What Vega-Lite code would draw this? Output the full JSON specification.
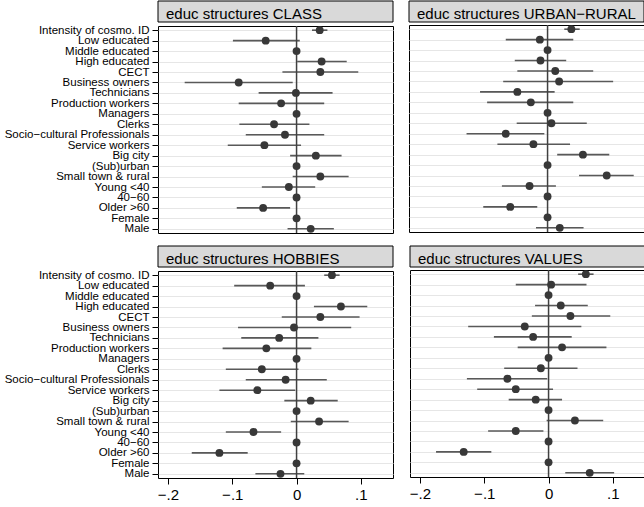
{
  "$schema": "https://vega.github.io/schema/vega-lite/v6.json",
  "padding": {"left": 3, "top": 0, "right": 0, "bottom": 0},
  "background": "white",
  "datasets": {
    "coefs": [
      {"panel": "CLASS", "label": "Intensity of cosmo. ID", "coef": 0.036, "lo": 0.024, "hi": 0.048},
      {"panel": "CLASS", "label": "Low educated", "coef": -0.048, "lo": -0.099, "hi": 0.005},
      {"panel": "CLASS", "label": "Middle educated", "coef": 0, "lo": 0, "hi": 0},
      {"panel": "CLASS", "label": "High educated", "coef": 0.039, "lo": 0.001, "hi": 0.078},
      {"panel": "CLASS", "label": "CECT", "coef": 0.037, "lo": -0.022, "hi": 0.096},
      {"panel": "CLASS", "label": "Business owners", "coef": -0.09, "lo": -0.174, "hi": -0.006},
      {"panel": "CLASS", "label": "Technicians", "coef": -0.001, "lo": -0.059, "hi": 0.056},
      {"panel": "CLASS", "label": "Production workers", "coef": -0.024, "lo": -0.09, "hi": 0.043},
      {"panel": "CLASS", "label": "Managers", "coef": 0, "lo": 0, "hi": 0},
      {"panel": "CLASS", "label": "Clerks", "coef": -0.035, "lo": -0.089, "hi": 0.02},
      {"panel": "CLASS", "label": "Socio−cultural Professionals", "coef": -0.018, "lo": -0.079, "hi": 0.043},
      {"panel": "CLASS", "label": "Service workers", "coef": -0.05, "lo": -0.107, "hi": 0.007},
      {"panel": "CLASS", "label": "Big city", "coef": 0.03, "lo": -0.01, "hi": 0.07},
      {"panel": "CLASS", "label": "(Sub)urban", "coef": 0, "lo": 0, "hi": 0},
      {"panel": "CLASS", "label": "Small town & rural", "coef": 0.037, "lo": -0.006, "hi": 0.081},
      {"panel": "CLASS", "label": "Young <40", "coef": -0.012, "lo": -0.054, "hi": 0.029},
      {"panel": "CLASS", "label": "40−60", "coef": 0, "lo": 0, "hi": 0},
      {"panel": "CLASS", "label": "Older >60", "coef": -0.052, "lo": -0.093, "hi": -0.01},
      {"panel": "CLASS", "label": "Female", "coef": 0, "lo": 0, "hi": 0},
      {"panel": "CLASS", "label": "Male", "coef": 0.022, "lo": -0.014, "hi": 0.058},

      {"panel": "URBAN−RURAL", "label": "Intensity of cosmo. ID", "coef": 0.037, "lo": 0.026, "hi": 0.05},
      {"panel": "URBAN−RURAL", "label": "Low educated", "coef": -0.012, "lo": -0.065, "hi": 0.04},
      {"panel": "URBAN−RURAL", "label": "Middle educated", "coef": 0, "lo": 0, "hi": 0},
      {"panel": "URBAN−RURAL", "label": "High educated", "coef": -0.011, "lo": -0.051, "hi": 0.029},
      {"panel": "URBAN−RURAL", "label": "CECT", "coef": 0.012, "lo": -0.047, "hi": 0.071},
      {"panel": "URBAN−RURAL", "label": "Business owners", "coef": 0.018, "lo": -0.069, "hi": 0.102},
      {"panel": "URBAN−RURAL", "label": "Technicians", "coef": -0.047, "lo": -0.105, "hi": 0.011},
      {"panel": "URBAN−RURAL", "label": "Production workers", "coef": -0.026, "lo": -0.094, "hi": 0.04},
      {"panel": "URBAN−RURAL", "label": "Managers", "coef": 0, "lo": 0, "hi": 0},
      {"panel": "URBAN−RURAL", "label": "Clerks", "coef": 0.006, "lo": -0.048, "hi": 0.061},
      {"panel": "URBAN−RURAL", "label": "Socio−cultural Professionals", "coef": -0.065, "lo": -0.126, "hi": -0.005},
      {"panel": "URBAN−RURAL", "label": "Service workers", "coef": -0.022, "lo": -0.078, "hi": 0.035},
      {"panel": "URBAN−RURAL", "label": "Big city", "coef": 0.055, "lo": 0.015, "hi": 0.096},
      {"panel": "URBAN−RURAL", "label": "(Sub)urban", "coef": 0, "lo": 0, "hi": 0},
      {"panel": "URBAN−RURAL", "label": "Small town & rural", "coef": 0.092, "lo": 0.049, "hi": 0.134},
      {"panel": "URBAN−RURAL", "label": "Young <40", "coef": -0.028, "lo": -0.071, "hi": 0.013},
      {"panel": "URBAN−RURAL", "label": "40−60", "coef": 0, "lo": 0, "hi": 0},
      {"panel": "URBAN−RURAL", "label": "Older >60", "coef": -0.058, "lo": -0.1, "hi": -0.016},
      {"panel": "URBAN−RURAL", "label": "Female", "coef": 0, "lo": 0, "hi": 0},
      {"panel": "URBAN−RURAL", "label": "Male", "coef": 0.019, "lo": -0.018, "hi": 0.056},

      {"panel": "HOBBIES", "label": "Intensity of cosmo. ID", "coef": 0.055, "lo": 0.043, "hi": 0.067},
      {"panel": "HOBBIES", "label": "Low educated", "coef": -0.041, "lo": -0.097, "hi": 0.013},
      {"panel": "HOBBIES", "label": "Middle educated", "coef": 0, "lo": 0, "hi": 0},
      {"panel": "HOBBIES", "label": "High educated", "coef": 0.069, "lo": 0.027, "hi": 0.11},
      {"panel": "HOBBIES", "label": "CECT", "coef": 0.037, "lo": -0.023, "hi": 0.098},
      {"panel": "HOBBIES", "label": "Business owners", "coef": -0.004, "lo": -0.091, "hi": 0.085},
      {"panel": "HOBBIES", "label": "Technicians", "coef": -0.027, "lo": -0.086, "hi": 0.034},
      {"panel": "HOBBIES", "label": "Production workers", "coef": -0.047, "lo": -0.115, "hi": 0.023},
      {"panel": "HOBBIES", "label": "Managers", "coef": 0, "lo": 0, "hi": 0},
      {"panel": "HOBBIES", "label": "Clerks", "coef": -0.054, "lo": -0.11, "hi": 0.003},
      {"panel": "HOBBIES", "label": "Socio−cultural Professionals", "coef": -0.017, "lo": -0.079, "hi": 0.047},
      {"panel": "HOBBIES", "label": "Service workers", "coef": -0.061, "lo": -0.12, "hi": -0.002},
      {"panel": "HOBBIES", "label": "Big city", "coef": 0.022, "lo": -0.019, "hi": 0.064},
      {"panel": "HOBBIES", "label": "(Sub)urban", "coef": 0, "lo": 0, "hi": 0},
      {"panel": "HOBBIES", "label": "Small town & rural", "coef": 0.035, "lo": -0.009, "hi": 0.081},
      {"panel": "HOBBIES", "label": "Young <40", "coef": -0.067, "lo": -0.11, "hi": -0.024},
      {"panel": "HOBBIES", "label": "40−60", "coef": 0, "lo": 0, "hi": 0},
      {"panel": "HOBBIES", "label": "Older >60", "coef": -0.12, "lo": -0.163, "hi": -0.076},
      {"panel": "HOBBIES", "label": "Female", "coef": 0, "lo": 0, "hi": 0},
      {"panel": "HOBBIES", "label": "Male", "coef": -0.025, "lo": -0.064, "hi": 0.012},

      {"panel": "VALUES", "label": "Intensity of cosmo. ID", "coef": 0.058, "lo": 0.046, "hi": 0.07},
      {"panel": "VALUES", "label": "Low educated", "coef": 0.004, "lo": -0.051, "hi": 0.059},
      {"panel": "VALUES", "label": "Middle educated", "coef": 0, "lo": 0, "hi": 0},
      {"panel": "VALUES", "label": "High educated", "coef": 0.019, "lo": -0.021, "hi": 0.061},
      {"panel": "VALUES", "label": "CECT", "coef": 0.034, "lo": -0.026, "hi": 0.096},
      {"panel": "VALUES", "label": "Business owners", "coef": -0.037, "lo": -0.125, "hi": 0.051},
      {"panel": "VALUES", "label": "Technicians", "coef": -0.024, "lo": -0.085, "hi": 0.036},
      {"panel": "VALUES", "label": "Production workers", "coef": 0.021, "lo": -0.048, "hi": 0.09},
      {"panel": "VALUES", "label": "Managers", "coef": 0, "lo": 0, "hi": 0},
      {"panel": "VALUES", "label": "Clerks", "coef": -0.012, "lo": -0.069, "hi": 0.045},
      {"panel": "VALUES", "label": "Socio−cultural Professionals", "coef": -0.064, "lo": -0.127, "hi": -0.002},
      {"panel": "VALUES", "label": "Service workers", "coef": -0.051, "lo": -0.111, "hi": 0.007},
      {"panel": "VALUES", "label": "Big city", "coef": -0.02, "lo": -0.062, "hi": 0.021},
      {"panel": "VALUES", "label": "(Sub)urban", "coef": 0, "lo": 0, "hi": 0},
      {"panel": "VALUES", "label": "Small town & rural", "coef": 0.041, "lo": -0.003, "hi": 0.085},
      {"panel": "VALUES", "label": "Young <40", "coef": -0.051, "lo": -0.094, "hi": -0.008},
      {"panel": "VALUES", "label": "40−60", "coef": 0, "lo": 0, "hi": 0},
      {"panel": "VALUES", "label": "Older >60", "coef": -0.132, "lo": -0.175, "hi": -0.089},
      {"panel": "VALUES", "label": "Female", "coef": 0, "lo": 0, "hi": 0},
      {"panel": "VALUES", "label": "Male", "coef": 0.064, "lo": 0.026, "hi": 0.102}
    ]
  },
  "vconcat": [
    {
      "hconcat": [
        {
          "vconcat": [
            {
              "width": 235, "height": 21,
              "data": {"values": [{"panel": "CLASS"}]},
              "mark": {"type": "rect", "fill": "#d9d9d9", "stroke": "black", "strokeWidth": 1},
              "view": {"stroke": null},
              "title": {"text": "educ structures CLASS", "orient": "bottom", "anchor": "start", "frame": "group", "baseline": "alphabetic", "offset": -4, "dx": 8}
            },
            {
              "width": 235, "height": 207,
              "data": {"name": "coefs"},
              "transform": [{"filter": "datum.panel === 'CLASS'"}],
              "layer": [
                {
                  "mark": {"type": "rule", "color": "#595959", "strokeWidth": 1.6},
                  "encoding": {
                    "y": {"field": "label", "type": "nominal", "sort": null, "scale": {"type": "point", "padding": 0.4}, "axis": {"title": null, "grid": true}},
                    "x": {"field": "lo", "type": "quantitative", "scale": {"domain": [-0.2155, 0.15], "nice": false, "zero": false}, "axis": null},
                    "x2": {"field": "hi"}
                  }
                },
                {
                  "data": {"values": [{"ref": 0}]},
                  "mark": {"type": "rule", "color": "#404040", "strokeWidth": 1.5},
                  "encoding": {
                    "x": {"field": "ref", "type": "quantitative", "scale": {"domain": [-0.2155, 0.15], "nice": false, "zero": false}, "axis": null}
                  }
                },
                {
                  "mark": {"type": "circle", "color": "#383838", "size": 62, "opacity": 1},
                  "encoding": {
                    "y": {"field": "label", "type": "nominal", "sort": null, "scale": {"type": "point", "padding": 0.4}, "axis": {"title": null, "grid": true}},
                    "x": {"field": "coef", "type": "quantitative", "scale": {"domain": [-0.2155, 0.15], "nice": false, "zero": false}, "axis": null}
                  }
                }
              ]
            }
          ],
          "spacing": 0
        },
        {
          "vconcat": [
            {
              "width": 235, "height": 21,
              "data": {"values": [{"panel": "URBAN−RURAL"}]},
              "mark": {"type": "rect", "fill": "#d9d9d9", "stroke": "black", "strokeWidth": 1},
              "view": {"stroke": null},
              "title": {"text": "educ structures URBAN−RURAL", "orient": "bottom", "anchor": "start", "frame": "group", "baseline": "alphabetic", "offset": -4, "dx": 8}
            },
            {
              "width": 235, "height": 207,
              "data": {"name": "coefs"},
              "transform": [{"filter": "datum.panel === 'URBAN−RURAL'"}],
              "layer": [
                {
                  "mark": {"type": "rule", "color": "#595959", "strokeWidth": 1.6},
                  "encoding": {
                    "y": {"field": "label", "type": "nominal", "sort": null, "scale": {"type": "point", "padding": 0.4}, "axis": {"title": null, "grid": true, "labels": false, "ticks": false}},
                    "x": {"field": "lo", "type": "quantitative", "scale": {"domain": [-0.2155, 0.15], "nice": false, "zero": false}, "axis": null},
                    "x2": {"field": "hi"}
                  }
                },
                {
                  "data": {"values": [{"ref": 0}]},
                  "mark": {"type": "rule", "color": "#404040", "strokeWidth": 1.5},
                  "encoding": {
                    "x": {"field": "ref", "type": "quantitative", "scale": {"domain": [-0.2155, 0.15], "nice": false, "zero": false}, "axis": null}
                  }
                },
                {
                  "mark": {"type": "circle", "color": "#383838", "size": 62, "opacity": 1},
                  "encoding": {
                    "y": {"field": "label", "type": "nominal", "sort": null, "scale": {"type": "point", "padding": 0.4}, "axis": {"title": null, "grid": true, "labels": false, "ticks": false}},
                    "x": {"field": "coef", "type": "quantitative", "scale": {"domain": [-0.2155, 0.15], "nice": false, "zero": false}, "axis": null}
                  }
                }
              ]
            }
          ],
          "spacing": 0
        }
      ],
      "spacing": 14
    },
    {
      "hconcat": [
        {
          "vconcat": [
            {
              "width": 235, "height": 21,
              "data": {"values": [{"panel": "HOBBIES"}]},
              "mark": {"type": "rect", "fill": "#d9d9d9", "stroke": "black", "strokeWidth": 1},
              "view": {"stroke": null},
              "title": {"text": "educ structures HOBBIES", "orient": "bottom", "anchor": "start", "frame": "group", "baseline": "alphabetic", "offset": -4, "dx": 8}
            },
            {
              "width": 235, "height": 207,
              "data": {"name": "coefs"},
              "transform": [{"filter": "datum.panel === 'HOBBIES'"}],
              "layer": [
                {
                  "mark": {"type": "rule", "color": "#595959", "strokeWidth": 1.6},
                  "encoding": {
                    "y": {"field": "label", "type": "nominal", "sort": null, "scale": {"type": "point", "padding": 0.4}, "axis": {"title": null, "grid": true}},
                    "x": {"field": "lo", "type": "quantitative", "scale": {"domain": [-0.2155, 0.15], "nice": false, "zero": false}, "axis": {"title": null, "values": [-0.2, -0.1, 0, 0.1], "labelExpr": "datum.value === 0 ? '0' : replace(format(datum.value, '.1f'), '0.', '.')"}},
                    "x2": {"field": "hi"}
                  }
                },
                {
                  "data": {"values": [{"ref": 0}]},
                  "mark": {"type": "rule", "color": "#404040", "strokeWidth": 1.5},
                  "encoding": {
                    "x": {"field": "ref", "type": "quantitative", "scale": {"domain": [-0.2155, 0.15], "nice": false, "zero": false}, "axis": {"title": null, "values": [-0.2, -0.1, 0, 0.1], "labelExpr": "datum.value === 0 ? '0' : replace(format(datum.value, '.1f'), '0.', '.')"}}
                  }
                },
                {
                  "mark": {"type": "circle", "color": "#383838", "size": 62, "opacity": 1},
                  "encoding": {
                    "y": {"field": "label", "type": "nominal", "sort": null, "scale": {"type": "point", "padding": 0.4}, "axis": {"title": null, "grid": true}},
                    "x": {"field": "coef", "type": "quantitative", "scale": {"domain": [-0.2155, 0.15], "nice": false, "zero": false}, "axis": {"title": null, "values": [-0.2, -0.1, 0, 0.1], "labelExpr": "datum.value === 0 ? '0' : replace(format(datum.value, '.1f'), '0.', '.')"}}
                  }
                }
              ]
            }
          ],
          "spacing": 0
        },
        {
          "vconcat": [
            {
              "width": 235, "height": 21,
              "data": {"values": [{"panel": "VALUES"}]},
              "mark": {"type": "rect", "fill": "#d9d9d9", "stroke": "black", "strokeWidth": 1},
              "view": {"stroke": null},
              "title": {"text": "educ structures VALUES", "orient": "bottom", "anchor": "start", "frame": "group", "baseline": "alphabetic", "offset": -4, "dx": 8}
            },
            {
              "width": 235, "height": 207,
              "data": {"name": "coefs"},
              "transform": [{"filter": "datum.panel === 'VALUES'"}],
              "layer": [
                {
                  "mark": {"type": "rule", "color": "#595959", "strokeWidth": 1.6},
                  "encoding": {
                    "y": {"field": "label", "type": "nominal", "sort": null, "scale": {"type": "point", "padding": 0.4}, "axis": {"title": null, "grid": true, "labels": false, "ticks": false}},
                    "x": {"field": "lo", "type": "quantitative", "scale": {"domain": [-0.2155, 0.15], "nice": false, "zero": false}, "axis": {"title": null, "values": [-0.2, -0.1, 0, 0.1], "labelExpr": "datum.value === 0 ? '0' : replace(format(datum.value, '.1f'), '0.', '.')"}},
                    "x2": {"field": "hi"}
                  }
                },
                {
                  "data": {"values": [{"ref": 0}]},
                  "mark": {"type": "rule", "color": "#404040", "strokeWidth": 1.5},
                  "encoding": {
                    "x": {"field": "ref", "type": "quantitative", "scale": {"domain": [-0.2155, 0.15], "nice": false, "zero": false}, "axis": {"title": null, "values": [-0.2, -0.1, 0, 0.1], "labelExpr": "datum.value === 0 ? '0' : replace(format(datum.value, '.1f'), '0.', '.')"}}
                  }
                },
                {
                  "mark": {"type": "circle", "color": "#383838", "size": 62, "opacity": 1},
                  "encoding": {
                    "y": {"field": "label", "type": "nominal", "sort": null, "scale": {"type": "point", "padding": 0.4}, "axis": {"title": null, "grid": true, "labels": false, "ticks": false}},
                    "x": {"field": "coef", "type": "quantitative", "scale": {"domain": [-0.2155, 0.15], "nice": false, "zero": false}, "axis": {"title": null, "values": [-0.2, -0.1, 0, 0.1], "labelExpr": "datum.value === 0 ? '0' : replace(format(datum.value, '.1f'), '0.', '.')"}}
                  }
                }
              ]
            }
          ],
          "spacing": 0
        }
      ],
      "spacing": 14
    }
  ],
  "spacing": 10,
  "config": {
    "font": "Liberation Sans",
    "view": {"stroke": "black", "strokeWidth": 1},
    "title": {"fontSize": 15, "fontWeight": "normal", "color": "black", "font": "Liberation Sans"},
    "axis": {"labelColor": "black", "tickColor": "black", "domain": false, "labelFont": "Liberation Sans"},
    "axisY": {"labelFontSize": 11.5, "tickSize": 6, "labelPadding": 3, "gridColor": "#e6e6e6", "gridWidth": 1.2, "labelLimit": 0},
    "axisX": {"labelFontSize": 15, "tickSize": 6, "labelPadding": 3, "grid": false}
  }
}
